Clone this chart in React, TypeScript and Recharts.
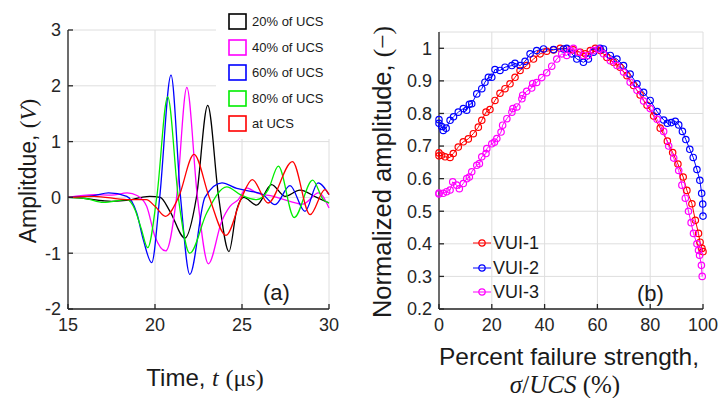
import React from "react";
import { CartesianGrid, Line, LineChart, XAxis, YAxis } from "recharts";

// (a) received waveforms, time in µs and amplitude in V
const timeTicks = [15, 20, 25, 30];
const ampTicks = [-2, -1, 0, 1, 2, 3];

const t20 = [15, 16, 17, 17.5, 18.5, 19.2, 19.7, 20.3, 20.86, 21.72, 22.38, 23.03, 23.66, 24.25, 24.7, 25.1, 25.84, 26.7, 27.47, 28.33, 29.29, 30];
const v20 = [0, -0.02, -0.06, -0.07, -0.05, 0, 0.02, 0, -0.25, -0.73, 0, 1.65, 0, -0.97, -0.22, 0, -0.14, 0.23, 0.02, 0.13, 0, -0.1];

const t40 = [15, 16.5, 17.5, 18.4, 19, 19.52, 20, 20.62, 21.24, 21.83, 22.44, 23.07, 23.83, 24.31, 24.79, 25.27, 25.84, 26.8, 27.76, 28.5, 29.4, 30];
const v40 = [0, 0.05, 0.04, 0.08, 0.03, -0.16, -0.7, -0.96, 0, 1.97, 0, -1.19, -0.43, -0.16, -0.04, 0.17, 0.08, 0.02, -0.07, -0.12, 0.08, -0.19];

const t60 = [15, 16.47, 17.33, 18.38, 18.95, 19.33, 19.81, 20.27, 20.92, 21.47, 22, 22.87, 23.85, 24.7, 25.5, 26.2, 26.9, 27.76, 28.62, 29.37, 30];
const v60 = [0, 0.03, 0.08, 0.02, -0.28, -0.76, -1.17, 0, 2.19, 0, -1.38, 0, 0.26, 0.16, 0.11, 0.05, -0.13, 0.21, -0.25, 0.26, 0.05];

const t80 = [15, 16, 17.04, 18.38, 18.85, 19.2, 19.58, 20.1, 20.73, 21.34, 22, 22.97, 24.12, 24.9, 25.84, 26.51, 27.09, 28, 29.06, 29.67, 30];
const v80 = [0, -0.02, -0.09, -0.04, -0.22, -0.55, -0.9, 0, 1.8, 0, -1, -0.28, 0.19, 0.05, -0.04, 0.14, 0.56, -0.36, 0.31, -0.04, -0.1];

const tUcs = [15, 16.5, 18.38, 19.5, 20, 20.6, 21.35, 22.24, 23.12, 24.08, 24.98, 25.59, 26.5, 27.9, 28.91, 29.77, 30];
const vUcs = [0, 0.02, -0.04, -0.04, -0.16, -0.34, 0, 0.77, 0, -0.68, 0, 0.32, -0.1, 0.64, -0.31, 0.14, 0.05];

const waveNames = ["20% of UCS", "40% of UCS", "60% of UCS", "80% of UCS", "at UCS"];
const waveColors = ["#000000", "#ff00ff", "#0000ff", "#00ee00", "#ff0000"];

// (b) normalized amplitude vs percent failure strength
const pctTicks = [0, 20, 40, 60, 80, 100];
const normTicks = [0.2, 0.3, 0.4, 0.5, 0.6, 0.7, 0.8, 0.9, 1];

const vui1P = [0, 0, 1, 2.3, 4.2, 5.4, 7.3, 9.2, 11.1, 13, 14.9, 16.2, 17.8, 19.3, 21.2, 23.1, 25, 26.9, 28.8, 30.7, 33.2, 35.8, 38.3, 40.8, 43.4, 45.9, 48.4, 50.9, 53.5, 55.4, 57.3, 59.2, 61.1, 63.6, 66.1, 68.6, 71.2, 73.7, 76.2, 78.8, 81.3, 83.8, 86.5, 88.5, 90.5, 92.5, 93.9, 95.8, 97.1, 98.3, 98.9, 99.6, 100];
const vui1V = [0.679, 0.67, 0.672, 0.667, 0.665, 0.677, 0.697, 0.713, 0.722, 0.738, 0.758, 0.779, 0.804, 0.812, 0.84, 0.862, 0.876, 0.891, 0.911, 0.932, 0.947, 0.967, 0.983, 0.991, 0.995, 1, 0.998, 0.995, 0.988, 0.983, 0.993, 1, 0.993, 0.972, 0.957, 0.942, 0.916, 0.886, 0.857, 0.825, 0.792, 0.755, 0.715, 0.68, 0.645, 0.605, 0.564, 0.523, 0.472, 0.432, 0.405, 0.386, 0.376];

const vui2P = [0, 0, 1, 1.6, 2.7, 4.2, 5.5, 7.3, 9.2, 10.5, 11.5, 12.4, 14.3, 16.2, 17.4, 18.7, 20, 21.2, 23.1, 25, 27.6, 28.8, 30.7, 32.6, 34.5, 37, 39.6, 43.4, 47.2, 48.4, 50.3, 52.2, 54.7, 56.6, 58.5, 61, 62.3, 64.9, 67.4, 69.9, 72.4, 75, 77.5, 80, 82.6, 85.1, 86.5, 88, 89.5, 90.8, 92.2, 93.5, 95, 96.3, 97.7, 98.8, 99.5, 99.9, 100];
const vui2V = [0.781, 0.77, 0.76, 0.748, 0.755, 0.779, 0.79, 0.804, 0.815, 0.81, 0.828, 0.83, 0.86, 0.876, 0.896, 0.911, 0.911, 0.935, 0.932, 0.942, 0.947, 0.954, 0.947, 0.96, 0.983, 0.993, 0.998, 0.996, 0.998, 1, 0.983, 0.967, 0.957, 0.967, 0.988, 1, 0.998, 0.978, 0.967, 0.947, 0.921, 0.891, 0.865, 0.84, 0.806, 0.78, 0.77, 0.772, 0.776, 0.765, 0.745, 0.72, 0.69, 0.665, 0.628, 0.595, 0.555, 0.522, 0.485];

const vui3P = [0, 0, 1.6, 2.9, 4.2, 5.2, 6.7, 7.7, 9.2, 10.5, 11.5, 12.4, 14.3, 15.3, 16.2, 17.8, 18.1, 20, 21, 21.9, 23.5, 24.1, 25.7, 27.6, 28, 29.5, 31.4, 31.7, 33.2, 35.1, 35.5, 37, 38.9, 40.8, 42.7, 44.6, 46.5, 48.4, 49.7, 50.9, 52.8, 54.7, 56.6, 58.5, 60.4, 62.3, 64.9, 67.4, 69.9, 72.4, 75, 77.5, 80, 82.6, 85.1, 87, 88.9, 90.8, 92, 93.3, 94.5, 95.5, 96.4, 97.7, 98.3, 98.7, 99.4, 99.7];
const vui3V = [0.553, 0.556, 0.555, 0.56, 0.565, 0.59, 0.58, 0.569, 0.585, 0.6, 0.605, 0.621, 0.641, 0.646, 0.667, 0.677, 0.692, 0.707, 0.712, 0.723, 0.743, 0.764, 0.784, 0.804, 0.815, 0.82, 0.845, 0.856, 0.868, 0.878, 0.892, 0.895, 0.91, 0.925, 0.945, 0.967, 0.983, 0.978, 0.993, 1, 0.988, 0.978, 0.978, 0.993, 0.998, 0.983, 0.962, 0.947, 0.927, 0.896, 0.871, 0.838, 0.815, 0.782, 0.745, 0.7, 0.663, 0.625, 0.58, 0.54, 0.5, 0.465, 0.432, 0.4, 0.38, 0.365, 0.334, 0.3];

const vuiNames = ["VUI-1", "VUI-2", "VUI-3"];
const vuiColors = ["#ff0000", "#0000ff", "#ff00ff"];

const FONT = '"Liberation Sans", Arial, Helvetica, sans-serif';
const SERIF = '"Liberation Serif", "DejaVu Serif", "Times New Roman", serif';
const AXIS = "#262626";
const GRID = "#dedede";

const toPoints = (xs: number[], ys: number[], key: string) =>
    xs.map((x, i) => ({ [key]: x, v: ys[i] }));

const waves = [
    toPoints(t20, v20, "t"),
    toPoints(t40, v40, "t"),
    toPoints(t60, v60, "t"),
    toPoints(t80, v80, "t"),
    toPoints(tUcs, vUcs, "t"),
];
const vuis = [
    toPoints(vui1P, vui1V, "p"),
    toPoints(vui2P, vui2V, "p"),
    toPoints(vui3P, vui3V, "p"),
];

const tickStyle = { fill: AXIS, fontSize: 18, fontFamily: FONT };
const blank = () => "";

const abs = (left: number, top: number): React.CSSProperties => ({
    position: "absolute",
    left,
    top,
    whiteSpace: "nowrap",
    fontFamily: FONT,
    color: "#1a1a1a",
});

export default function App() {
    return (
        <div style={{ position: "absolute", left: 0, top: 0, width: 720, height: 398, background: "#fff" }}>
            {/* (a) waveforms */}
            <div style={{ position: "absolute", left: 0, top: 0 }}>
                <LineChart width={360} height={398} margin={{ top: 30, right: 31, bottom: 59, left: 0 }}>
                    <CartesianGrid stroke={GRID} />
                    <XAxis dataKey="t" type="number" domain={[15, 30]} ticks={timeTicks} height={30}
                        tickSize={-5} tickMargin={14} stroke={AXIS} strokeWidth={1.3} tick={tickStyle} />
                    <XAxis xAxisId="top" orientation="top" type="number" domain={[15, 30]} ticks={timeTicks}
                        height={0} tickSize={-5} tickFormatter={blank} stroke={AXIS} strokeWidth={1.3} />
                    <YAxis type="number" domain={[-2, 3]} ticks={ampTicks} width={68}
                        tickSize={-5} tickMargin={12} stroke={AXIS} strokeWidth={1.3} tick={tickStyle} />
                    <YAxis yAxisId="right" orientation="right" type="number" domain={[-2, 3]} ticks={ampTicks}
                        width={0} tickSize={-5} tickFormatter={blank} stroke={AXIS} strokeWidth={1.3} />
                    {waves.map((d, i) => (
                        <Line key={waveNames[i]} data={d} dataKey="v" name={waveNames[i]} type="monotone"
                            stroke={waveColors[i]} strokeWidth={1.3} dot={false} isAnimationActive={false} />
                    ))}
                </LineChart>
            </div>

            {/* legend (a) */}
            <div style={{ position: "absolute", left: 216, top: 0, width: 124, height: 139, background: "#fff" }} />
            {waveNames.map((n, i) => (
                <div key={n} style={{ ...abs(228, 13 + i * 25.5), fontSize: 13, lineHeight: "17px", display: "flex", alignItems: "center" }}>
                    <svg width={19} height={17} style={{ marginRight: 5 }}>
                        <rect x={1} y={1} width={17} height={15} fill="none" stroke={waveColors[i]} strokeWidth={1.6} />
                    </svg>
                    {n}
                </div>
            ))}

            {/* (b) normalized amplitude */}
            <div style={{ position: "absolute", left: 360, top: 0 }}>
                <LineChart width={360} height={398} margin={{ top: 32, right: 17, bottom: 59, left: 0 }}>
                    <CartesianGrid stroke={GRID} />
                    <XAxis dataKey="p" type="number" domain={[0, 100]} ticks={pctTicks} height={30}
                        tickSize={-5} tickMargin={14} stroke={AXIS} strokeWidth={1.3} tick={tickStyle} />
                    <XAxis xAxisId="top" orientation="top" type="number" domain={[0, 100]} ticks={pctTicks}
                        height={0} tickSize={-5} tickFormatter={blank} stroke={AXIS} strokeWidth={1.3} />
                    <YAxis type="number" domain={[0.2, 1.05]} ticks={normTicks} width={79}
                        tickSize={-5} tickMargin={12} stroke={AXIS} strokeWidth={1.3} tick={tickStyle}
                        tickFormatter={(v: number) => String(Math.round(v * 10) / 10)} />
                    <YAxis yAxisId="right" orientation="right" type="number" domain={[0.2, 1.05]} ticks={normTicks}
                        width={0} tickSize={-5} tickFormatter={blank} stroke={AXIS} strokeWidth={1.3} />
                    {vuis.map((d, i) => (
                        <Line key={vuiNames[i]} data={d} dataKey="v" name={vuiNames[i]} type="linear"
                            stroke={vuiColors[i]} strokeWidth={1}
                            dot={{ r: 3.2, fill: "none", stroke: vuiColors[i], strokeWidth: 1.2 }}
                            isAnimationActive={false} />
                    ))}
                </LineChart>
            </div>

            {/* legend (b) */}
            {vuiNames.map((n, i) => (
                <div key={n} style={{ ...abs(472, 232 + i * 24.7), fontSize: 18, lineHeight: "22px", display: "flex", alignItems: "center" }}>
                    <svg width={20} height={10} style={{ marginRight: 1 }}>
                        <line x1={1} y1={5} x2={19} y2={5} stroke={vuiColors[i]} strokeWidth={1} />
                        <circle cx={10} cy={5} r={3.2} fill="none" stroke={vuiColors[i]} strokeWidth={1.2} />
                    </svg>
                    {n}
                </div>
            ))}

            {/* panel tags */}
            <div style={{ ...abs(263, 280), fontSize: 22 }}>(a)</div>
            <div style={{ ...abs(637, 281), fontSize: 22 }}>(b)</div>

            {/* axis titles */}
            <div style={{ ...abs(28, 171), fontSize: 23, transform: "translate(-50%, -50%) rotate(-90deg)" }}>
                Amplitdue, <span style={{ fontFamily: SERIF }}>(<i>V</i>)</span>
            </div>
            <div style={{ ...abs(205, 378), fontSize: 24, transform: "translate(-50%, -50%)" }}>
                Time, <i style={{ fontFamily: SERIF }}>t</i> <span style={{ fontFamily: SERIF }}>(μ<i>s</i>)</span>
            </div>
            <div style={{ ...abs(383, 172), fontSize: 25.5, transform: "translate(-50%, -50%) rotate(-90deg)" }}>
                Normalized amplitude, <span style={{ fontFamily: SERIF }}>(−)</span>
            </div>
            <div style={{ ...abs(569, 357), fontSize: 24.5, transform: "translate(-50%, -50%)" }}>
                Percent failure strength,
            </div>
            <div style={{ ...abs(565, 385), fontSize: 25, transform: "translate(-50%, -50%)", fontFamily: SERIF }}>
                <i>σ</i>/<i>UCS</i> (%)
            </div>
        </div>
    );
}
